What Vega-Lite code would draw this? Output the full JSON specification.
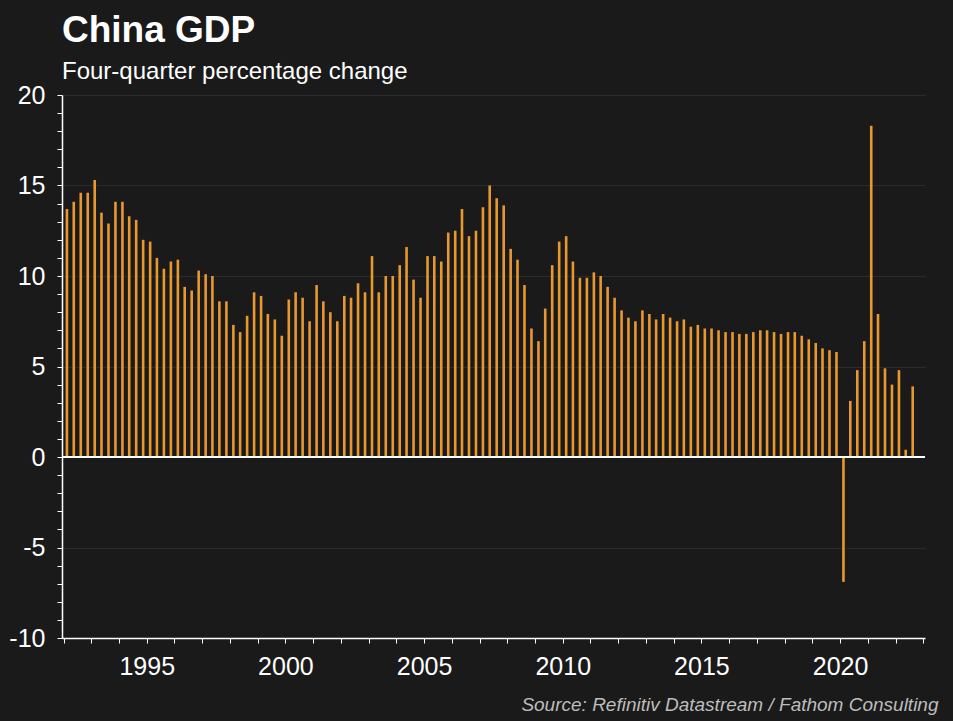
{
  "$schema": "https://vega.github.io/schema/vega-lite/v6.json",
  "width": 863,
  "height": 543,
  "autosize": {"type": "none"},
  "padding": {"left": 62, "top": 95, "right": 28, "bottom": 83},
  "background": "#1a1a1a",
  "title": {
    "text": "China GDP",
    "subtitle": "Four-quarter percentage change",
    "anchor": "start",
    "frame": "group",
    "font": "Liberation Sans",
    "fontSize": 37,
    "fontWeight": "bold",
    "color": "#ffffff",
    "subtitleFont": "Liberation Sans",
    "subtitleFontSize": 24,
    "subtitleColor": "#ffffff",
    "subtitlePadding": 10,
    "offset": -2
  },
  "config": {
    "view": {"stroke": null},
    "axis": {
      "domainColor": "#ffffff",
      "domainWidth": 1.5,
      "tickColor": "#ffffff",
      "labelColor": "#ffffff",
      "labelFont": "Liberation Sans",
      "labelFontSize": 24,
      "gridColor": "#2b2b2b",
      "gridWidth": 1
    }
  },
  "data": {
    "values": [
      {"date": "1992-02-15", "growth": 13.7}, {"date": "1992-05-15", "growth": 14.1}, {"date": "1992-08-15", "growth": 14.6}, {"date": "1992-11-15", "growth": 14.6},
      {"date": "1993-02-15", "growth": 15.3}, {"date": "1993-05-15", "growth": 13.5}, {"date": "1993-08-15", "growth": 12.9}, {"date": "1993-11-15", "growth": 14.1},
      {"date": "1994-02-15", "growth": 14.1}, {"date": "1994-05-15", "growth": 13.3}, {"date": "1994-08-15", "growth": 13.1}, {"date": "1994-11-15", "growth": 12.0},
      {"date": "1995-02-15", "growth": 11.9}, {"date": "1995-05-15", "growth": 11.0}, {"date": "1995-08-15", "growth": 10.4}, {"date": "1995-11-15", "growth": 10.8},
      {"date": "1996-02-15", "growth": 10.9}, {"date": "1996-05-15", "growth": 9.4}, {"date": "1996-08-15", "growth": 9.2}, {"date": "1996-11-15", "growth": 10.3},
      {"date": "1997-02-15", "growth": 10.1}, {"date": "1997-05-15", "growth": 10.0}, {"date": "1997-08-15", "growth": 8.6}, {"date": "1997-11-15", "growth": 8.6},
      {"date": "1998-02-15", "growth": 7.3}, {"date": "1998-05-15", "growth": 6.9}, {"date": "1998-08-15", "growth": 7.8}, {"date": "1998-11-15", "growth": 9.1},
      {"date": "1999-02-15", "growth": 8.9}, {"date": "1999-05-15", "growth": 7.9}, {"date": "1999-08-15", "growth": 7.6}, {"date": "1999-11-15", "growth": 6.7},
      {"date": "2000-02-15", "growth": 8.7}, {"date": "2000-05-15", "growth": 9.1}, {"date": "2000-08-15", "growth": 8.8}, {"date": "2000-11-15", "growth": 7.5},
      {"date": "2001-02-15", "growth": 9.5}, {"date": "2001-05-15", "growth": 8.6}, {"date": "2001-08-15", "growth": 8.0}, {"date": "2001-11-15", "growth": 7.5},
      {"date": "2002-02-15", "growth": 8.9}, {"date": "2002-05-15", "growth": 8.8}, {"date": "2002-08-15", "growth": 9.6}, {"date": "2002-11-15", "growth": 9.1},
      {"date": "2003-02-15", "growth": 11.1}, {"date": "2003-05-15", "growth": 9.1}, {"date": "2003-08-15", "growth": 10.0}, {"date": "2003-11-15", "growth": 10.0},
      {"date": "2004-02-15", "growth": 10.6}, {"date": "2004-05-15", "growth": 11.6}, {"date": "2004-08-15", "growth": 9.8}, {"date": "2004-11-15", "growth": 8.8},
      {"date": "2005-02-15", "growth": 11.1}, {"date": "2005-05-15", "growth": 11.1}, {"date": "2005-08-15", "growth": 10.8}, {"date": "2005-11-15", "growth": 12.4},
      {"date": "2006-02-15", "growth": 12.5}, {"date": "2006-05-15", "growth": 13.7}, {"date": "2006-08-15", "growth": 12.2}, {"date": "2006-11-15", "growth": 12.5},
      {"date": "2007-02-15", "growth": 13.8}, {"date": "2007-05-15", "growth": 15.0}, {"date": "2007-08-15", "growth": 14.3}, {"date": "2007-11-15", "growth": 13.9},
      {"date": "2008-02-15", "growth": 11.5}, {"date": "2008-05-15", "growth": 10.9}, {"date": "2008-08-15", "growth": 9.5}, {"date": "2008-11-15", "growth": 7.1},
      {"date": "2009-02-15", "growth": 6.4}, {"date": "2009-05-15", "growth": 8.2}, {"date": "2009-08-15", "growth": 10.6}, {"date": "2009-11-15", "growth": 11.9},
      {"date": "2010-02-15", "growth": 12.2}, {"date": "2010-05-15", "growth": 10.8}, {"date": "2010-08-15", "growth": 9.9}, {"date": "2010-11-15", "growth": 9.9},
      {"date": "2011-02-15", "growth": 10.2}, {"date": "2011-05-15", "growth": 10.0}, {"date": "2011-08-15", "growth": 9.4}, {"date": "2011-11-15", "growth": 8.8},
      {"date": "2012-02-15", "growth": 8.1}, {"date": "2012-05-15", "growth": 7.7}, {"date": "2012-08-15", "growth": 7.5}, {"date": "2012-11-15", "growth": 8.1},
      {"date": "2013-02-15", "growth": 7.9}, {"date": "2013-05-15", "growth": 7.6}, {"date": "2013-08-15", "growth": 7.9}, {"date": "2013-11-15", "growth": 7.7},
      {"date": "2014-02-15", "growth": 7.5}, {"date": "2014-05-15", "growth": 7.6}, {"date": "2014-08-15", "growth": 7.2}, {"date": "2014-11-15", "growth": 7.3},
      {"date": "2015-02-15", "growth": 7.1}, {"date": "2015-05-15", "growth": 7.1}, {"date": "2015-08-15", "growth": 7.0}, {"date": "2015-11-15", "growth": 6.9},
      {"date": "2016-02-15", "growth": 6.9}, {"date": "2016-05-15", "growth": 6.8}, {"date": "2016-08-15", "growth": 6.8}, {"date": "2016-11-15", "growth": 6.9},
      {"date": "2017-02-15", "growth": 7.0}, {"date": "2017-05-15", "growth": 7.0}, {"date": "2017-08-15", "growth": 6.9}, {"date": "2017-11-15", "growth": 6.8},
      {"date": "2018-02-15", "growth": 6.9}, {"date": "2018-05-15", "growth": 6.9}, {"date": "2018-08-15", "growth": 6.7}, {"date": "2018-11-15", "growth": 6.5},
      {"date": "2019-02-15", "growth": 6.3}, {"date": "2019-05-15", "growth": 6.0}, {"date": "2019-08-15", "growth": 5.9}, {"date": "2019-11-15", "growth": 5.8},
      {"date": "2020-02-15", "growth": -6.9}, {"date": "2020-05-15", "growth": 3.1}, {"date": "2020-08-15", "growth": 4.8}, {"date": "2020-11-15", "growth": 6.4},
      {"date": "2021-02-15", "growth": 18.3}, {"date": "2021-05-15", "growth": 7.9}, {"date": "2021-08-15", "growth": 4.9}, {"date": "2021-11-15", "growth": 4.0},
      {"date": "2022-02-15", "growth": 4.8}, {"date": "2022-05-15", "growth": 0.4}, {"date": "2022-08-15", "growth": 3.9}
    ]
  },
  "layer": [
    {
      "mark": {"type": "rule", "color": "#e8982f", "strokeWidth": 2.6},
      "encoding": {
        "x": {
          "field": "date",
          "type": "temporal",
          "scale": {
            "type": "utc",
            "domain": [
              {"year": 1991, "month": 12, "date": 12, "utc": true},
              {"year": 2023, "month": 1, "date": 24, "utc": true}
            ]
          },
          "axis": {
            "tickCount": {"interval": "year", "step": 1},
            "tickSize": 5,
            "grid": false,
            "labelOverlap": false,
            "labelPadding": 11,
            "labelFontSize": 25,
            "labelExpr": "utcyear(datum.value) % 5 === 0 ? utcFormat(datum.value, '%Y') : ''",
            "title": "Source: Refinitiv Datastream / Fathom Consulting",
            "titleFont": "Liberation Sans",
            "titleFontSize": 19,
            "titleFontStyle": "italic",
            "titleFontWeight": "normal",
            "titleColor": "#bdbdbd",
            "titleAlign": "right",
            "titleX": 876,
            "titlePadding": 16
          }
        },
        "y": {
          "field": "growth",
          "type": "quantitative",
          "scale": {"domain": [-10, 20], "nice": false, "zero": false},
          "axis": {
            "values": [-10, -9, -8, -7, -6, -5, -4, -3, -2, -1, 0, 1, 2, 3, 4, 5, 6, 7, 8, 9, 10, 11, 12, 13, 14, 15, 16, 17, 18, 19, 20],
            "tickCount": 40,
            "labelExpr": "datum.value % 5 === 0 ? '' + datum.value : ''",
            "labelOverlap": false,
            "labelFontSize": 25,
            "tickSize": 5,
            "labelPadding": 12,
            "grid": true,
            "gridOpacity": {"condition": {"test": "datum.value % 5 !== 0", "value": 0}, "value": 1},
            "title": null
          }
        },
        "y2": {"datum": 0}
      }
    },
    {
      "mark": {"type": "rule", "color": "#ffffff", "strokeWidth": 1.5},
      "encoding": {"y": {"datum": 0, "type": "quantitative"}}
    }
  ]
}
